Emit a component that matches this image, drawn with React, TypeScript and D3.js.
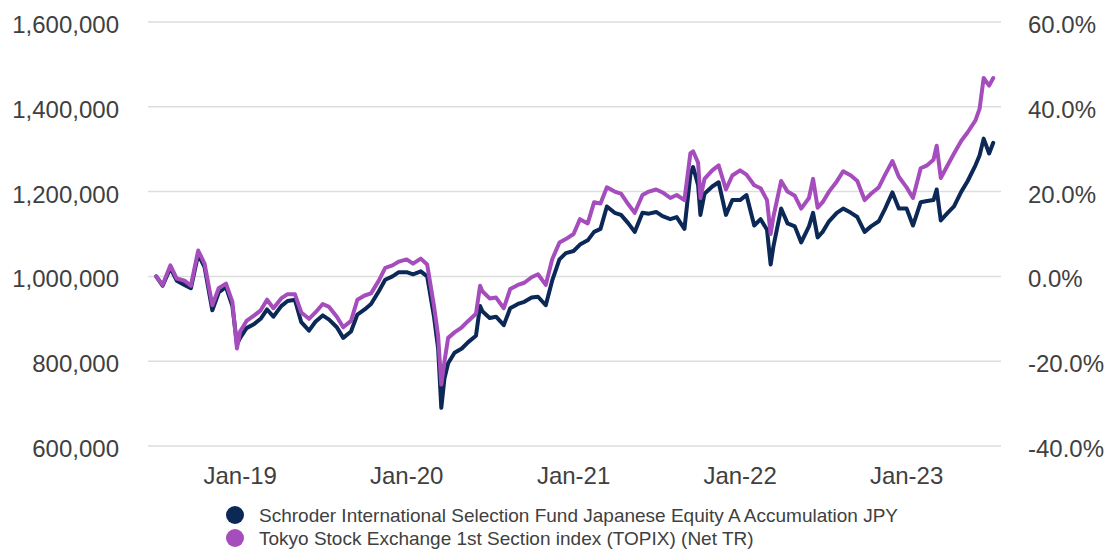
import React from 'react';
import * as d3 from 'd3';

// values in thousands of JPY (growth of 1,000,000)
const dates = [
  '2018-07-01', '2018-07-15', '2018-08-01', '2018-08-15', '2018-09-01', '2018-09-15', '2018-10-01', '2018-10-15', '2018-11-01', '2018-11-15', '2018-12-01', '2018-12-15', '2018-12-25',
  '2019-01-01', '2019-01-15', '2019-02-01', '2019-02-15', '2019-03-01', '2019-03-15', '2019-04-01', '2019-04-15', '2019-05-01', '2019-05-15', '2019-06-01', '2019-06-15',
  '2019-07-01', '2019-07-15', '2019-08-01', '2019-08-15', '2019-09-01', '2019-09-15', '2019-10-01', '2019-10-15', '2019-11-01', '2019-11-15', '2019-12-01', '2019-12-15',
  '2020-01-01', '2020-01-15', '2020-02-01', '2020-02-15', '2020-03-01', '2020-03-10', '2020-03-17', '2020-03-24', '2020-04-01', '2020-04-15', '2020-05-01', '2020-05-15',
  '2020-06-01', '2020-06-10', '2020-06-15', '2020-07-01', '2020-07-15', '2020-08-01', '2020-08-15', '2020-09-01', '2020-09-15', '2020-10-01', '2020-10-15', '2020-11-01',
  '2020-11-15', '2020-12-01', '2020-12-15',
  '2021-01-01', '2021-01-15', '2021-02-01', '2021-02-15', '2021-03-01', '2021-03-15', '2021-04-01', '2021-04-15', '2021-05-01', '2021-05-15', '2021-06-01', '2021-06-15',
  '2021-07-01', '2021-07-15', '2021-08-01', '2021-08-15', '2021-09-01', '2021-09-14', '2021-09-20', '2021-10-01', '2021-10-06', '2021-10-15', '2021-11-01', '2021-11-15',
  '2021-12-01', '2021-12-15',
  '2022-01-01', '2022-01-15', '2022-02-01', '2022-02-15', '2022-03-01', '2022-03-09', '2022-03-15', '2022-04-01', '2022-04-15', '2022-05-01', '2022-05-15', '2022-06-01',
  '2022-06-10', '2022-06-20', '2022-07-01', '2022-07-15', '2022-08-01', '2022-08-15', '2022-09-01', '2022-09-15', '2022-10-01', '2022-10-15', '2022-11-01', '2022-11-15',
  '2022-12-01', '2022-12-15',
  '2023-01-01', '2023-01-15', '2023-02-01', '2023-02-15', '2023-03-01', '2023-03-08', '2023-03-17', '2023-04-01', '2023-04-15', '2023-05-01', '2023-05-15', '2023-06-01',
  '2023-06-10', '2023-06-19', '2023-07-01', '2023-07-10',
];

const fundValues = [
  1000, 978, 1020, 990, 980, 972, 1052, 1022, 920, 962, 975, 930, 840,
  855, 878, 888, 900, 922, 905, 930, 942, 945, 892, 872, 893,
  908, 898, 880, 855, 870, 910, 922, 935, 965, 992, 1000, 1010,
  1010, 1005, 1012, 1000, 905, 830, 690, 760, 795, 820, 830, 845,
  860, 930, 918, 902, 905, 885, 925, 935, 940, 950, 952, 932,
  990, 1040, 1055,
  1060, 1075, 1085, 1105, 1112, 1165, 1150, 1145, 1125, 1105, 1150, 1148,
  1152, 1142, 1135, 1140, 1112, 1240, 1258, 1215, 1145, 1195, 1212, 1222,
  1145, 1180,
  1180, 1192, 1120, 1135, 1110, 1028, 1070, 1160, 1125, 1118, 1080, 1118,
  1150, 1092, 1105, 1130, 1150, 1160, 1150, 1140, 1105, 1118, 1130, 1160,
  1198, 1160,
  1160, 1120, 1175, 1178, 1180, 1205, 1132, 1150, 1165, 1200, 1225, 1262,
  1285, 1325, 1290, 1315,
];

const indexValues = [
  1000, 980, 1026, 995, 990, 978, 1061, 1030, 932, 972, 983, 940, 830,
  870, 895, 908, 920, 945, 925, 948, 958, 958, 915, 900, 915,
  935, 928, 905, 880, 895, 945, 955, 960, 990, 1020, 1026, 1035,
  1040, 1030, 1042, 1028, 930, 860, 745, 800, 855, 868, 880, 895,
  912, 978, 965, 948, 950, 925, 970, 980, 985, 998, 1005, 980,
  1040, 1080, 1088,
  1100, 1135, 1125, 1175, 1172, 1210, 1200, 1195, 1170, 1150, 1192, 1200,
  1205, 1198, 1185, 1192, 1180, 1290, 1295, 1268, 1185, 1230, 1250, 1262,
  1205, 1238,
  1250, 1240, 1215, 1208, 1180, 1100, 1140, 1225, 1200, 1190, 1160, 1185,
  1230, 1162, 1175, 1200, 1224, 1248, 1238, 1225, 1180, 1195, 1210, 1240,
  1272, 1235,
  1210, 1185, 1255, 1262, 1275, 1308, 1232, 1262, 1290, 1320, 1340, 1368,
  1395, 1468, 1450, 1468,
];

const leftTicks = [600000, 800000, 1000000, 1200000, 1400000, 1600000];
const rightTicks = [-0.4, -0.2, 0, 0.2, 0.4, 0.6];
const xTickDates = ['2019-01-01', '2020-01-01', '2021-01-01', '2022-01-01', '2023-01-01'];

const seriesNames = [
  'Schroder International Selection Fund Japanese Equity A Accumulation JPY',
  'Tokyo Stock Exchange 1st Section index (TOPIX) (Net TR)',
];
const colors = ['#0b2857', '#a54dbd'];

const W = 1109;
const H = 550;
const FONT = '"Liberation Sans", Arial, sans-serif';
const TEXT = '#404040';

export default function App() {
  const parse = d3.timeParse('%Y-%m-%d');
  const x = d3.scaleTime()
    .domain([parse('2018-06-13')!, parse('2023-07-27')!])
    .range([148, 1001]);
  const y = d3.scaleLinear().domain([600000, 1600000]).range([446, 22]);
  const yRight = d3.scaleLinear().domain([-0.4, 0.6]).range([446, 22]);

  const fmtLeft = d3.format(',');
  const fmtRight = (v: number) => `${(v * 100).toFixed(1)}%`;
  const fmtX = d3.timeFormat('%b-%y');

  const line = d3.line<number>()
    .x((_, i) => x(parse(dates[i])!))
    .y(d => y(d * 1000));

  const series = [fundValues, indexValues];

  return (
    <svg width={W} height={H} style={{ position: 'absolute', left: 0, top: 0, background: '#fff' }}
      fontFamily={FONT}>
      {leftTicks.map(t => (
        <g key={t}>
          <line x1={148} x2={1001} y1={y(t)} y2={y(t)} stroke="#dddddd" strokeWidth={1.5} />
          <text x={119} y={y(t) + 11} textAnchor="end" fontSize={24} fill={TEXT}>{fmtLeft(t)}</text>
        </g>
      ))}
      {rightTicks.map(t => (
        <text key={t} x={1028} y={yRight(t) + 11} fontSize={24} fill={TEXT}>{fmtRight(t)}</text>
      ))}
      {xTickDates.map(d => (
        <text key={d} x={x(parse(d)!)} y={484} textAnchor="middle" fontSize={24} fill={TEXT}>
          {fmtX(parse(d)!)}
        </text>
      ))}
      {series.map((s, i) => (
        <path key={i} d={line(s) ?? ''} fill="none" stroke={colors[i]} strokeWidth={4}
          strokeLinejoin="round" strokeLinecap="round" />
      ))}
      {seriesNames.map((name, i) => (
        <g key={name}>
          <circle cx={235} cy={515 + i * 23} r={9} fill={colors[i]} />
          <text x={259} y={522 + i * 23} fontSize={19} fill={TEXT}>{name}</text>
        </g>
      ))}
    </svg>
  );
}
